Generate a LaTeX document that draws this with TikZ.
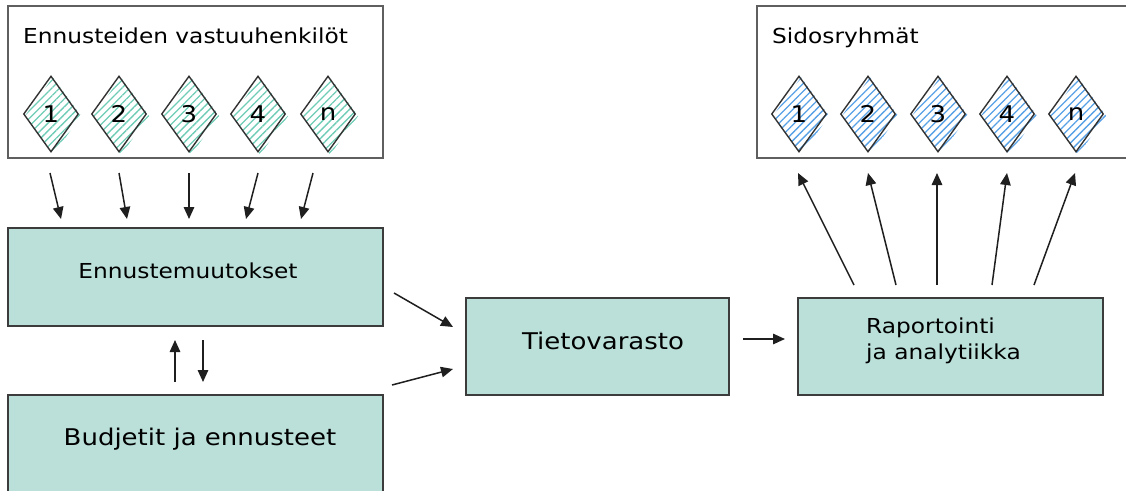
\documentclass[tikz,border=0pt]{standalone}
\usepackage{fontspec}
\setmainfont{DejaVu Sans}[FakeStretch=1.13]
\usetikzlibrary{arrows.meta,shapes.geometric,patterns.meta}

\definecolor{boxfill}{RGB}{186,224,217}
\definecolor{boxline}{RGB}{60,60,60}
\definecolor{frameline}{RGB}{95,95,95}
\definecolor{hatchgreen}{RGB}{110,204,182}
\definecolor{hatchblue}{RGB}{86,160,230}

\pgfdeclarelayer{hatch}
\pgfsetlayers{hatch,main}

\tikzset{
  frame/.style={draw=frameline, line width=1.6pt, inner sep=0pt},
  procbox/.style={draw=boxline, line width=1.4pt, fill=boxfill, inner sep=0pt},
  role/.style={diamond, draw=black!80, line width=1.4pt, minimum width=55pt,
    minimum height=76pt, inner sep=0pt, font=\fontsize{23}{23}\selectfont},
  hatched/.style={pattern={Lines[angle=45,distance=5.5pt,line width=1.3pt]},
    pattern color=#1},
  title/.style={anchor=base west, inner sep=0pt, font=\fontsize{20.6}{26}\selectfont},
  boxtext/.style={anchor=base, inner sep=0pt, font=\fontsize{20.6}{26}\selectfont},
  flow/.style={-{Triangle[length=12pt,width=10.5pt]}, line width=1.5pt, black!88},
}

\begin{document}
\begin{tikzpicture}[x=1pt,y=-1pt]
\useasboundingbox (0,0) rectangle (1126,490);

% group frames
\node[frame, minimum width=375pt, minimum height=152pt] (owners) at (195.5,82) {};
\node[frame, minimum width=373pt, minimum height=152pt] (stake) at (943.5,82) {};
\node[title] (ownerstitle) at (23,43) {Ennusteiden vastuuhenkilöt};
\node[title] (staketitle) at (772,43) {Sidosryhmät};

% diamonds with hatching
\foreach \x/\t [count=\i] in {51/1,119/2,189/3,258/4,328/n}{
  \node[role] (o\i) at (\x,114) {\t};
  \begin{pgfonlayer}{hatch}
    \path[hatched=hatchgreen] ([shift={(2,2)}]o\i.north) -- ([shift={(2,2)}]o\i.east)
      -- ([shift={(2,2)}]o\i.south) -- ([shift={(2,2)}]o\i.west) -- cycle;
  \end{pgfonlayer}
}
\foreach \x/\t [count=\i] in {799/1,868/2,938/3,1007/4,1076/n}{
  \node[role] (s\i) at (\x,114) {\t};
  \begin{pgfonlayer}{hatch}
    \path[hatched=hatchblue] ([shift={(2,2)}]s\i.north) -- ([shift={(2,2)}]s\i.east)
      -- ([shift={(2,2)}]s\i.south) -- ([shift={(2,2)}]s\i.west) -- cycle;
  \end{pgfonlayer}
}

% process boxes
\node[procbox, minimum width=375pt, minimum height=98pt] (changes) at (195.5,277) {};
\node[procbox, minimum width=375pt, minimum height=98pt] (budgets) at (195.5,444) {};
\node[procbox, minimum width=263pt, minimum height=97pt] (dw) at (597.5,346.5) {};
\node[procbox, minimum width=305pt, minimum height=97pt] (report) at (950.5,346.5) {};

\node[boxtext] (changestext) at (188,278) {Ennustemuutokset};
\node[boxtext, font=\fontsize{23}{26}\selectfont] (budgetstext) at (200,445) {Budjetit ja ennusteet};
\node[boxtext, font=\fontsize{23}{26}\selectfont] (dwtext) at (603,349) {Tietovarasto};
\node[boxtext, anchor=base west, align=left] (reporttext) at (866,359) {Raportointi\\ja analytiikka};

% connector end points
\coordinate (a1) at (50,173);  \coordinate (b1) at (61,219);
\coordinate (a2) at (119,173); \coordinate (b2) at (127,219);
\coordinate (a3) at (189,173); \coordinate (b3) at (189,219);
\coordinate (a4) at (258,173); \coordinate (b4) at (246,219);
\coordinate (a5) at (313,173); \coordinate (b5) at (301,219);

\coordinate (upA) at (175,382);  \coordinate (upB) at (175,340);
\coordinate (dnA) at (203,340);  \coordinate (dnB) at (203,382);

\coordinate (c1) at (394,293); \coordinate (d1) at (453,327);
\coordinate (c2) at (392,385); \coordinate (d2) at (453,369);

\coordinate (e1) at (743,339); \coordinate (e2) at (785,339);

\coordinate (p1) at (854,285);  \coordinate (q1) at (798,173);
\coordinate (p2) at (896,285);  \coordinate (q2) at (868,173);
\coordinate (p3) at (937,285);  \coordinate (q3) at (937,173);
\coordinate (p4) at (992,285);  \coordinate (q4) at (1007,173);
\coordinate (p5) at (1034,285); \coordinate (q5) at (1075,173);

% connectors
\foreach \i in {1,...,5}{
  \draw[flow] (a\i) -- (b\i);
  \draw[flow] (p\i) -- (q\i);
}
\draw[flow] (upA) -- (upB);
\draw[flow] (dnA) -- (dnB);
\draw[flow] (c1) -- (d1);
\draw[flow] (c2) -- (d2);
\draw[flow] (e1) -- (e2);

\end{tikzpicture}
\end{document}
